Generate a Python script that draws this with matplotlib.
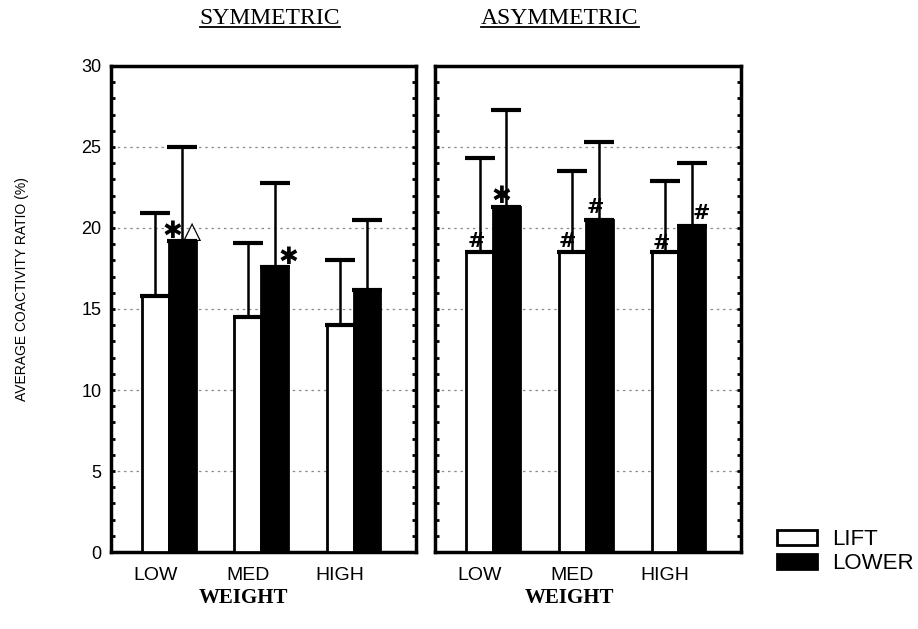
import matplotlib
matplotlib.use("Agg")
import matplotlib.pyplot as plt
import numpy as np
from matplotlib.patches import Patch
from matplotlib.lines import Line2D
from matplotlib.ticker import MultipleLocator

plt.rcParams["font.family"] = ["Liberation Sans", "DejaVu Sans"]

# data
weights = ["LOW", "MED", "HIGH"]
sym_lift = [15.8, 14.5, 14.0]
sym_lift_sd = [5.1, 4.6, 4.0]
sym_lower = [19.2, 17.6, 16.2]
sym_lower_sd = [5.8, 5.2, 4.3]
asym_lift = [18.5, 18.5, 18.5]
asym_lift_sd = [5.8, 5.0, 4.4]
asym_lower = [21.3, 20.5, 20.1]
asym_lower_sd = [6.0, 4.8, 3.9]

# significance marks: (series, group, symbol, dx, dy)
sym_marks = [("lower", 0, "✱", -0.11, 0.6), ("lower", 0, "△", 0.11, 0.6),
             ("lower", 1, "✱", 0.15, 0.6)]
asym_marks = [("lift", 0, "#", -0.04, 0.7), ("lower", 0, "✱", -0.06, 0.7),
              ("lift", 1, "#", -0.05, 0.7), ("lower", 1, "#", -0.04, 0.8),
              ("lift", 2, "#", -0.04, 0.6), ("lower", 2, "#", 0.10, 0.8)]

W = 0.29


def draw_panel(ax, lift, lift_sd, lower, lower_sd, marks, show_ylabels=True):
    x = np.arange(len(weights))
    ax.bar(x, lift, W, color="white", edgecolor="black", linewidth=2, zorder=3)
    ax.bar(x + W, lower, W, color="black", edgecolor="black", linewidth=2, zorder=3)
    for xs, vals, sd in [(x, lift, lift_sd), (x + W, lower, lower_sd)]:
        ax.errorbar(xs, vals, yerr=[np.zeros(len(sd)), sd], fmt="none",
                    ecolor="black", elinewidth=1.8, capsize=11, capthick=3, zorder=4)

    for series, g, sym, dx, dy in marks:
        if series == "lift":
            xc, top = x[g], lift[g]
        else:
            xc, top = x[g] + W, lower[g]
        if sym == "#":
            ax.text(xc + dx, top + dy, sym, ha="center", va="center", fontsize=15,
                    fontweight="bold", family="DejaVu Serif", zorder=5)
        elif sym == "△":
            ax.text(xc + dx, top + dy, sym, ha="center", va="center", fontsize=17,
                    fontweight="bold", family="DejaVu Sans", zorder=5)
        else:
            ax.text(xc + dx, top + dy, sym, ha="center", va="center", fontsize=17,
                    fontweight="bold", family="DejaVu Sans", zorder=5)

    ax.set_ylim(0, 30)
    ax.set_xlim(-0.48, 2.82)
    ax.set_yticks(np.arange(0, 31, 5))
    ax.yaxis.set_minor_locator(MultipleLocator(1))
    for yv in range(5, 30, 5):
        ax.axhline(yv, color="0.55", linestyle=(0, (2, 3)), linewidth=0.9, zorder=1)
    ax.set_xticks(x)
    ax.set_xticklabels(weights, fontsize=14)
    ax.tick_params(axis="x", direction="in", length=3, width=1.5, pad=11)
    ax.tick_params(axis="y", which="both", direction="in", right=True, width=2,
                   labelsize=13, pad=7)
    ax.tick_params(axis="y", which="major", length=3)
    ax.tick_params(axis="y", which="minor", length=3)
    if not show_ylabels:
        ax.set_yticklabels([])
    for s in ax.spines.values():
        s.set_linewidth(2.5)


def underlined_title(fig, x, y, text):
    t = fig.text(x, y, text, ha="center", va="center", fontsize=17,
                 family="Liberation Serif")
    fig.canvas.draw()
    bb = t.get_window_extent(renderer=fig.canvas.get_renderer())
    bb = bb.transformed(fig.transFigure.inverted())
    fig.add_artist(Line2D([bb.x0, bb.x1], [bb.y0 + 0.002, bb.y0 + 0.002],
                          color="black", linewidth=1.3, transform=fig.transFigure))


fig = plt.figure(figsize=(9.18, 6.29), dpi=100)
ax0 = fig.add_axes([0.1209, 0.1224, 0.3323, 0.7727])
ax1 = fig.add_axes([0.4739, 0.1224, 0.3333, 0.7727])

draw_panel(ax0, sym_lift, sym_lift_sd, sym_lower, sym_lower_sd, sym_marks)
draw_panel(ax1, asym_lift, asym_lift_sd, asym_lower, asym_lower_sd, asym_marks,
           show_ylabels=False)

fig.text(0.024, 0.54, "AVERAGE COACTIVITY RATIO (%)", rotation=90,
         ha="center", va="center", fontsize=10)

for xc in [243 / 918, 569 / 918]:
    fig.text(xc, 1 - 598 / 629, "WEIGHT", ha="center", va="center", fontsize=15,
             fontweight="bold", family="Liberation Serif")

underlined_title(fig, 270 / 918, 1 - 18 / 629, "SYMMETRIC")
underlined_title(fig, 560 / 918, 1 - 18 / 629, "ASYMMETRIC")

handles = [Patch(facecolor="white", edgecolor="black", linewidth=2),
           Patch(facecolor="black", edgecolor="black", linewidth=2)]
fig.legend(handles, ["LIFT", "LOWER"], loc="upper left",
           bbox_to_anchor=(777 / 918, 1 - 529 / 629), frameon=False, fontsize=16,
           handlelength=1.8, handleheight=0.65, handletextpad=0.7,
           labelspacing=0.15, borderpad=0, borderaxespad=0)

fig.savefig("out.png", dpi=100)
